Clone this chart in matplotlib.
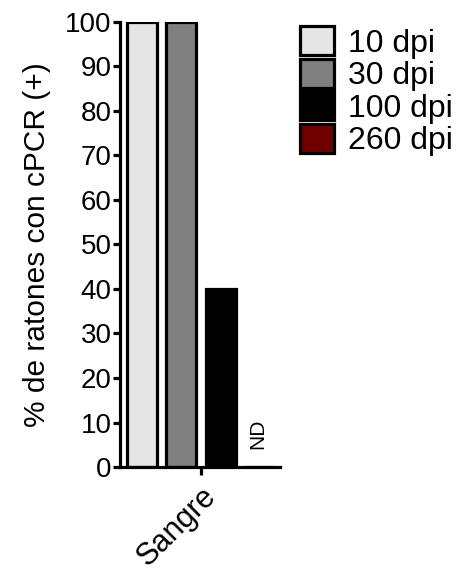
import numpy as np
import matplotlib.pyplot as plt

plt.rcParams['font.family'] = ['Liberation Sans', 'DejaVu Sans']

# Datos
grupos = ['10 dpi', '30 dpi', '100 dpi', '260 dpi']
valores = [100, 100, 40, 0]
colores = ['#e5e5e5', '#808080', '#000000', '#700000']
categoria = 'Sangre'

fig = plt.figure(figsize=(4.66, 5.74), dpi=100)
ax = fig.add_axes([0.2575, 0.1864, 0.3433, 0.7753])

pos = np.arange(len(grupos)) - 1.5
for p, v, c, g in zip(pos, valores, colores, grupos):
    ax.bar(p, v, width=0.76, color=c, edgecolor='black', linewidth=2.3, label=g)

# ND para 260 dpi
ax.text(pos[3] - 0.05, 4, 'ND', rotation=90, ha='center', va='bottom', fontsize=15)

ax.set_xlim(-2.05, 2.0)
ax.set_ylim(0, 100)
ax.set_yticks(np.arange(0, 101, 10))
ax.set_xticks([0])
ax.set_xticklabels([categoria], rotation=45, ha='right', rotation_mode='anchor', fontsize=22)
ax.tick_params(axis='y', labelsize=20, width=2.3, length=5, pad=1)
ax.tick_params(axis='x', width=2.3, length=6, pad=4)
ax.set_ylabel('% de ratones con cPCR (+)', fontsize=21.5, labelpad=10)

for s in ['top', 'right']:
    ax.spines[s].set_visible(False)
for s in ['left', 'bottom']:
    ax.spines[s].set_linewidth(2.3)

ax.legend(loc='upper left', bbox_to_anchor=(1.125, 0.99), frameon=False, fontsize=23,
          handlelength=1.05, handleheight=1.02, labelspacing=0.0, handletextpad=0.45,
          borderaxespad=0, borderpad=0)

plt.savefig('out.png', dpi=100)
